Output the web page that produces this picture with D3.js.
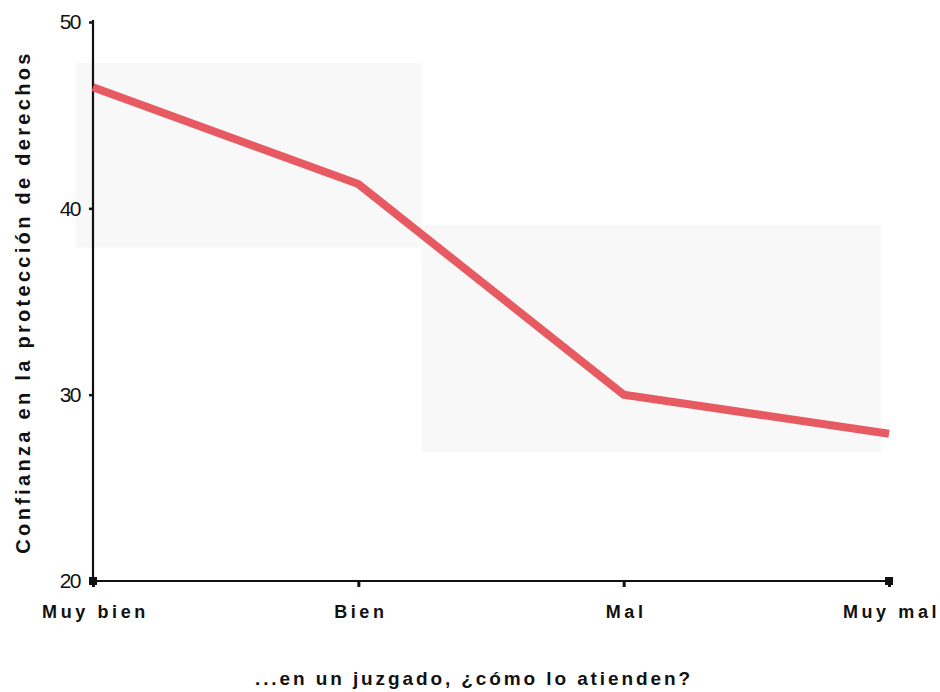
<!DOCTYPE html>
<html><head><meta charset="utf-8">
<script src="https://cdn.jsdelivr.net/npm/d3@7"></script>
<style>body{margin:0;background:#fff}svg{display:block}</style>
</head><body><svg id="c" width="940" height="692"></svg>
<script>
const categories = ["Muy bien", "Bien", "Mal", "Muy mal"];
const values = [46.5, 41.3, 30.0, 27.9];
const yTicks = [20, 30, 40, 50];
// background bands: [xStartIndex, xEndIndex, yLow, yHigh]
const bandX0 = [-0.065, 1.24];
const bandX1 = [1.24, 2.97];
const bandLow = [37.9, 26.9];
const bandHigh = [47.8, 39.1];
const yTitle = "Confianza en la protección de derechos";
const xTitle = "...en un juzgado, ¿cómo lo atienden?";

const svg = d3.select("#c");
const x = d3.scaleLinear().domain([0, 3]).range([93, 889]);
const y = d3.scaleLinear().domain([20, 50]).range([581, 22]);

svg.append("g").selectAll("rect").data(bandX0).join("rect")
  .attr("x", (d,i)=>x(bandX0[i]))
  .attr("width", (d,i)=>x(bandX1[i])-x(bandX0[i]))
  .attr("y", (d,i)=>y(bandHigh[i]))
  .attr("height", (d,i)=>y(bandLow[i])-y(bandHigh[i]))
  .attr("fill", "#f8f8f8");

// axes
const yAxis = d3.axisLeft(y).tickValues(yTicks).tickSize(4).tickFormat(d3.format("d"));
const gy = svg.append("g").attr("transform", "translate(93,0)").call(yAxis);
gy.select(".domain").attr("stroke", "#111").attr("stroke-width", 2.2).attr("d", `M0,${y(50)-2}V${y(20)}`);
gy.selectAll(".tick line").attr("stroke", "#111").attr("stroke-width", 2.5);
gy.selectAll(".tick text").attr("x", -13).attr("dy", "0.32em")
  .attr("font-family", "Liberation Sans, Arial, sans-serif").attr("font-size", 21)
  .attr("letter-spacing", "-1.5px").attr("fill", "#111");

const xAxis = d3.axisBottom(x).tickValues([0,1,2,3]).tickSize(6).tickFormat(i=>categories[i]);
const gx = svg.append("g").attr("transform", `translate(0,${y(20)})`).call(xAxis);
gx.select(".domain").attr("stroke", "#111").attr("stroke-width", 2.2).attr("d", `M${x(0)},0H${x(3)}`);
gx.selectAll(".tick line").attr("stroke", "#111").attr("stroke-width", 3);
gx.selectAll(".tick text").attr("y", 37).attr("dy", "0").attr("dx", 2)
  .attr("font-family", "Liberation Sans, Arial, sans-serif").attr("font-size", 18)
  .attr("font-weight", "bold").attr("letter-spacing", "3.6px").attr("fill", "#111");

// end squares
svg.append("g").selectAll("rect").data([0,3]).join("rect")
  .attr("x", d=>x(d)-4).attr("y", y(20)-4).attr("width", 8).attr("height", 8).attr("fill", "#111");

// line
const line = d3.line().x((d,i)=>x(i)).y(d=>y(d));
svg.append("path").datum(values).attr("d", line)
  .attr("fill", "none").attr("stroke", "#e85a62").attr("stroke-width", 8)
  .attr("stroke-linejoin", "miter");

// titles
svg.append("text").attr("transform", "translate(30,302) rotate(-90)")
  .attr("text-anchor", "middle").attr("font-family", "Liberation Sans, Arial, sans-serif")
  .attr("font-size", 20).attr("font-weight", "bold").attr("letter-spacing", "3.3px").attr("fill", "#111")
  .text(yTitle);
svg.append("text").attr("x", 474).attr("y", 685)
  .attr("text-anchor", "middle").attr("font-family", "Liberation Sans, Arial, sans-serif")
  .attr("font-size", 19).attr("font-weight", "bold").attr("letter-spacing", "2.9px").attr("fill", "#111")
  .text(xTitle);
</script></body></html>
